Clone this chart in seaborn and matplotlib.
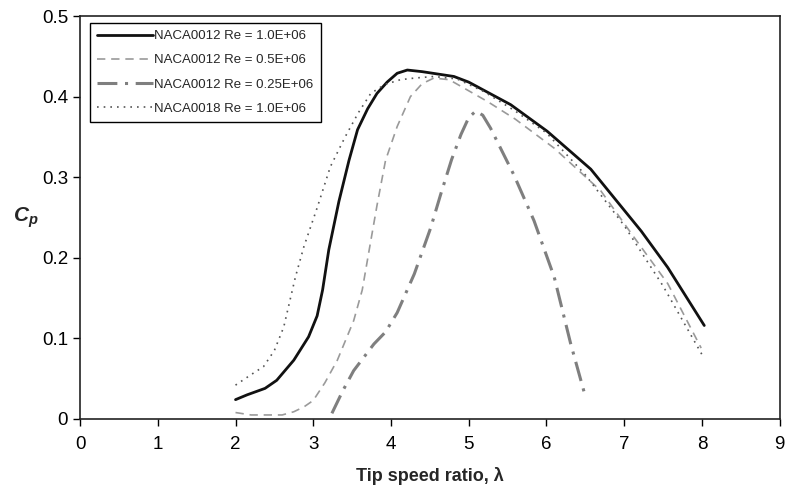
import numpy as np
import pandas as pd
import matplotlib
matplotlib.use('Agg')
from matplotlib import pyplot as plt
import seaborn as sns

# NACA0012 Re = 1.0E+06 (solid black)
x_a = [2.0, 2.15, 2.38, 2.53, 2.75, 2.94, 3.05, 3.12, 3.2, 3.33, 3.46, 3.57, 3.7, 3.82, 3.95, 4.08, 4.21, 4.4,
       4.81, 5.0, 5.54, 6.01, 6.57, 7.22, 7.56, 8.03]
y_a = [0.024, 0.030, 0.038, 0.048, 0.073, 0.102, 0.128, 0.16, 0.21, 0.27, 0.321, 0.359, 0.385, 0.404, 0.418, 0.429,
       0.433, 0.431, 0.425, 0.418, 0.39, 0.357, 0.31, 0.233, 0.188, 0.116]

# NACA0012 Re = 0.5E+06 (light dashed)
x_b = [2.0, 2.2, 2.36, 2.6, 2.75, 2.88, 3.0, 3.15, 3.31, 3.52, 3.63, 3.72, 3.82, 3.93, 4.08, 4.25, 4.4, 4.55, 4.75,
       5.24, 5.6, 6.1, 6.7, 7.13, 7.56, 7.99]
y_b = [0.008, 0.005, 0.005, 0.005, 0.009, 0.015, 0.023, 0.045, 0.073, 0.122, 0.16, 0.21, 0.265, 0.321, 0.363, 0.4,
       0.416, 0.423, 0.421, 0.394, 0.372, 0.336, 0.283, 0.225, 0.168, 0.088]

# NACA0012 Re = 0.25E+06 (dash-dot grey)
x_c = [3.24, 3.38, 3.52, 3.78, 3.93, 4.08, 4.3, 4.51, 4.64, 4.78, 4.9, 5.0, 5.09, 5.18, 5.28, 5.58, 5.84, 6.1,
       6.31, 6.5]
y_c = [0.007, 0.035, 0.06, 0.093, 0.108, 0.132, 0.18, 0.237, 0.279, 0.322, 0.353, 0.374, 0.382, 0.377, 0.361, 0.303,
       0.246, 0.176, 0.094, 0.028]

# NACA0018 Re = 1.0E+06 (dotted)
x_d = [2.0, 2.2, 2.36, 2.5, 2.62, 2.77, 2.88, 3.05, 3.22, 3.41, 3.58, 3.74, 3.92, 4.12, 4.3, 4.55, 4.85, 5.2, 5.6,
       6.0, 6.5, 7.0, 7.5, 8.0]
y_d = [0.042, 0.055, 0.065, 0.085, 0.114, 0.176, 0.214, 0.262, 0.313, 0.35, 0.38, 0.404, 0.415, 0.421, 0.423, 0.425,
       0.422, 0.406, 0.382, 0.355, 0.303, 0.24, 0.165, 0.08]

labels = ['NACA0012 Re = 1.0E+06', 'NACA0012 Re = 0.5E+06',
          'NACA0012 Re = 0.25E+06', 'NACA0018 Re = 1.0E+06']

sns.set_style('ticks')
plt.rcParams['font.family'] = ['Liberation Sans', 'DejaVu Sans']
plt.rcParams['mathtext.fontset'] = 'custom'
plt.rcParams['mathtext.it'] = 'Liberation Sans:italic:bold'
plt.rcParams['mathtext.rm'] = 'Liberation Sans:bold'

fig = plt.figure(figsize=(7.87, 4.92), dpi=100)
ax = fig.add_axes([0.1017, 0.1484, 0.889, 0.819])

sns.lineplot(x=x_a, y=y_a, ax=ax, color='#111111', linewidth=2.0, label=labels[0], sort=False)
sns.lineplot(x=x_b, y=y_b, ax=ax, color='#9a9a9a', linewidth=1.2, linestyle=(0, (5, 3.5)),
             label=labels[1], sort=False)
sns.lineplot(x=x_c, y=y_c, ax=ax, color='#7f7f7f', linewidth=2.2, linestyle=(0, (6.5, 2.5, 1, 2.5)),
             label=labels[2], sort=False)
sns.lineplot(x=x_d, y=y_d, ax=ax, color='#555555', linewidth=1.2, linestyle=(0, (1, 3)),
             label=labels[3], sort=False)

ax.set_xlim(0, 9)
ax.set_ylim(0, 0.5)
ax.set_xticks(range(0, 10))
ax.set_yticks([0, 0.1, 0.2, 0.3, 0.4, 0.5])
ax.set_yticklabels(['0', '0.1', '0.2', '0.3', '0.4', '0.5'])
ax.tick_params(axis='both', direction='out', length=5, width=1, colors='black', labelsize=13.5)
ax.tick_params(axis='x', pad=7)
for s in ax.spines.values():
    s.set_visible(True)
    s.set_color('#222222')
    s.set_linewidth(1.2)

ax.set_xlabel('Tip speed ratio, λ', fontsize=13, fontweight='bold', labelpad=10)
ax.set_ylabel(r'$C_p$', fontsize=15, rotation=0, labelpad=12, va='center')

leg = ax.legend(loc='upper left', bbox_to_anchor=(0.014, 0.983), borderaxespad=0, fontsize=9.5,
                frameon=True, fancybox=False, edgecolor='black', framealpha=1,
                handlelength=4.2, handletextpad=0.15, labelspacing=0.9, borderpad=0.55)
leg.get_frame().set_linewidth(1.0)

fig.savefig('out.png', dpi=100)
